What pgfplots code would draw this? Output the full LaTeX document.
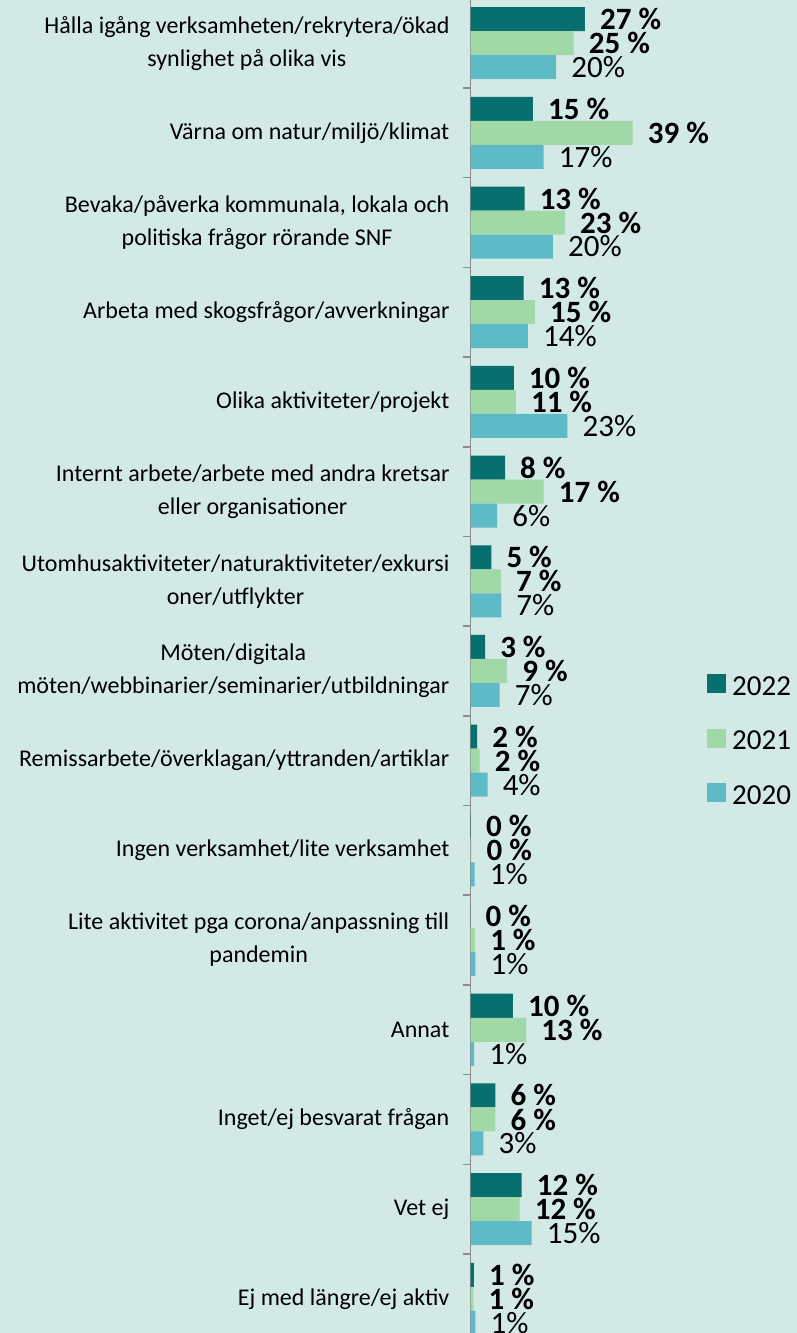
\documentclass[border=0pt]{standalone}
\usepackage{pgfplots}
\pgfplotsset{compat=1.18}
\usepackage{pgfplotstable}
\usepackage{fontspec}
\setmainfont{Carlito}
\definecolor{cA}{RGB}{7,111,109}
\definecolor{cB}{RGB}{160,216,168}
\definecolor{cC}{RGB}{94,187,198}
\definecolor{bgc}{RGB}{210,233,230}
\definecolor{axg}{RGB}{140,140,140}

% y = 14 - category index (top category = 14)
\pgfplotstableread{
y x lab
14 27.5 27
13 15.0 15
12 13.0 13
11 12.8 13
10 10.4 10
9 8.3 8
8 5.0 5
7 3.5 3
6 1.6 2
5 0.1 0
4 0.0 0
3 10.2 10
2 6.0 6
1 12.3 12
0 0.8 1
}\tA
\pgfplotstableread{
y x lab
14 24.8 25
13 39.0 39
12 22.7 23
11 15.5 15
10 10.9 11
9 17.6 17
8 7.3 7
7 8.8 9
6 2.2 2
5 0.2 0
4 1.1 1
3 13.4 13
2 6.0 6
1 11.8 12
0 0.7 1
}\tB
\pgfplotstableread{
y x lab
14 20.6 20
13 17.6 17
12 19.8 20
11 13.8 14
10 23.3 23
9 6.4 6
8 7.4 7
7 7.0 7
6 4.1 4
5 1.0 1
4 1.2 1
3 0.9 1
2 3.1 3
1 14.7 15
0 1.2 1
}\tC

\begin{document}
\begin{tikzpicture}
\fill[bgc] (0,0) rectangle (797pt,1333pt);
\useasboundingbox (0,0) rectangle (797pt,1333pt);
\begin{axis}[
  at={(470.5pt,0pt)}, anchor=south west,
  scale only axis, width=326.5pt, height=1333pt,
  xmin=0, xmax=78.49, ymin=-0.381, ymax=14.481,
  axis x line=none, axis y line*=left,
  y axis line style={draw=axg, line width=1.5pt},
  xbar, bar width=24pt,
  ytick={0,...,14},
  yticklabels={
    {Ej med längre/ej aktiv},
    {Vet ej},
    {Inget/ej besvarat frågan},
    {Annat},
    {Lite aktivitet pga corona/anpassning till\\pandemin},
    {Ingen verksamhet/lite verksamhet},
    {Remissarbete/överklagan/yttranden/artiklar},
    {Möten/digitala\\möten/webbinarier/seminarier/utbildningar},
    {Utomhusaktiviteter/naturaktiviteter/exkursi\\oner/utflykter},
    {Internt arbete/arbete med andra kretsar\\eller organisationer},
    {Olika aktiviteter/projekt},
    {Arbeta med skogsfrågor/avverkningar},
    {Bevaka/påverka kommunala, lokala och\\politiska frågor rörande SNF},
    {Värna om natur/miljö/klimat},
    {Hålla igång verksamheten/rekrytera/ökad\\synlighet på olika vis}},
  major tick length=0pt,
  minor ytick={-0.5,0.5,...,14.5},
  minor tick length=8pt, tick align=outside,
  minor tick style={draw=axg, line width=1.5pt},
  yticklabel style={font=\fontsize{24}{33}\selectfont, align=center, anchor=east, inner sep=0pt, xshift=-21pt, text=black},
  clip=false,
  point meta=explicit symbolic,
  nodes near coords style={anchor=west, inner sep=0pt, xshift=15pt, font=\fontsize{31}{31}\selectfont, text=black},
  legend style={at={(rel axis cs:0.7244,0.444)}, anchor=west, draw=none, fill=none,
    font=\fontsize{29}{29}\selectfont, row sep=30pt, inner sep=0pt},
  legend cell align=left,
  legend image code/.code={\fill[#1] (0pt,-6.5pt) rectangle (19pt,12.5pt); \path (23pt,0pt);},
]
\addplot[fill=cA, draw=none, bar shift=24pt, nodes near coords={\bfseries\pgfplotspointmeta~\%}] table[x=x,y=y,meta=lab]{\tA};
\addplot[fill=cB, draw=none, bar shift=0pt, nodes near coords={\bfseries\pgfplotspointmeta~\%}] table[x=x,y=y,meta=lab]{\tB};
\addplot[fill=cC, draw=none, bar shift=-24pt, nodes near coords={\pgfplotspointmeta\%}] table[x=x,y=y,meta=lab]{\tC};
\legend{2022,2021,2020}
\end{axis}
\end{tikzpicture}
\end{document}
